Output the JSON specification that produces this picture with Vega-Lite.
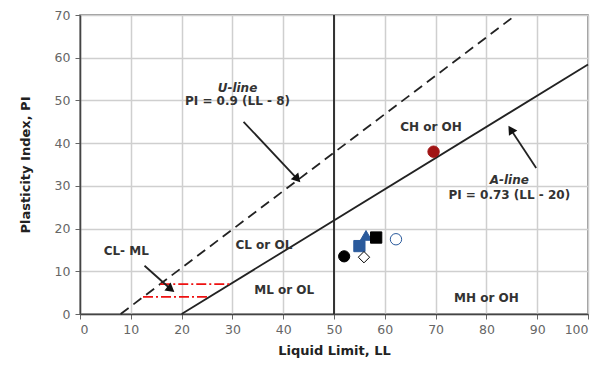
{
  "$schema": "https://vega.github.io/schema/vega-lite/v6.json",
  "width": 508,
  "height": 299,
  "autosize": "none",
  "padding": {"left": 80, "top": 15, "right": 23, "bottom": 65},
  "background": "white",
  "config": {
    "view": {"stroke": "#777", "strokeWidth": 1.5},
    "font": "DejaVu Sans",
    "axis": {
      "grid": true, "gridColor": "#cfcfcf", "gridWidth": 1.5,
      "domainColor": "#444", "domainWidth": 1.5,
      "tickColor": "#666", "tickSize": 5,
      "labelColor": "#666", "labelFontSize": 12.5, "labelFont": "DejaVu Sans",
      "titleFont": "DejaVu Sans", "titleFontSize": 13, "titleFontWeight": "bold", "titleColor": "#222"
    }
  },
  "datasets": {
    "lines": [
      {"line": "U", "LL": 8, "PI": 0}, {"line": "U", "LL": 85.8, "PI": 70},
      {"line": "A", "LL": 20, "PI": 0}, {"line": "A", "LL": 100, "PI": 58.4},
      {"line": "V", "LL": 50, "PI": 0}, {"line": "V", "LL": 50, "PI": 70},
      {"line": "R7", "LL": 15.8, "PI": 7}, {"line": "R7", "LL": 29.8, "PI": 7},
      {"line": "R4", "LL": 12.4, "PI": 4}, {"line": "R4", "LL": 25.6, "PI": 4}
    ],
    "arrows": [
      {"arrow": "U", "LL": 32.2, "PI": 45.0, "LL2": 42.8, "PI2": 31.6},
      {"arrow": "A", "LL": 89.8, "PI": 34.2, "LL2": 84.8, "PI2": 43.2},
      {"arrow": "C", "LL": 12.7, "PI": 11.3, "LL2": 17.9, "PI2": 5.8}
    ],
    "samples": [
      {"s": "a", "LL": 52.0, "PI": 13.5},
      {"s": "b", "LL": 55.0, "PI": 15.9},
      {"s": "e", "LL": 55.9, "PI": 13.3},
      {"s": "c", "LL": 56.3, "PI": 18.4},
      {"s": "d", "LL": 58.3, "PI": 17.9},
      {"s": "f", "LL": 62.2, "PI": 17.5},
      {"s": "g", "LL": 69.6, "PI": 38.0}
    ],
    "labels": [
      {"t": "PI = 0.9 (LL - 8)", "LL": 31.0, "PI": 49.8},
      {"t": "CH or OH", "LL": 69.1, "PI": 43.7},
      {"t": "PI = 0.73 (LL - 20)", "LL": 84.5, "PI": 27.8},
      {"t": "CL or OL", "LL": 36.2, "PI": 16.1},
      {"t": "CL- ML", "LL": 9.1, "PI": 14.7},
      {"t": "ML or OL", "LL": 40.2, "PI": 5.6},
      {"t": "MH or OH", "LL": 80.0, "PI": 3.7}
    ],
    "italic": [
      {"t": "U-line", "LL": 31.0, "PI": 52.8},
      {"t": "A-line", "LL": 84.5, "PI": 31.3}
    ]
  },
  "encoding": {
    "x": {"field": "LL", "type": "quantitative", "scale": {"domain": [0, 100], "nice": false},
      "axis": {"title": "Liquid Limit, LL", "values": [0,10,20,30,40,50,60,70,80,90,100], "titlePadding": 9, "labelPadding": 4}},
    "y": {"field": "PI", "type": "quantitative", "scale": {"domain": [0, 70], "nice": false},
      "axis": {"title": "Plasticity Index, PI", "values": [0,10,20,30,40,50,60,70], "titlePadding": 22, "labelPadding": 5}}
  },
  "layer": [
    {"data": {"name": "lines"}, "transform": [{"filter": "datum.line == 'U'"}],
      "mark": {"type": "line", "color": "#222", "strokeWidth": 1.8, "strokeDash": [10, 6]}},
    {"data": {"name": "lines"}, "transform": [{"filter": "datum.line == 'A' || datum.line == 'V'"}],
      "mark": {"type": "line", "color": "#222", "strokeWidth": 1.8}, "encoding": {"detail": {"field": "line"}}},
    {"data": {"name": "lines"}, "transform": [{"filter": "datum.line == 'R7' || datum.line == 'R4'"}],
      "mark": {"type": "line", "color": "#ee1111", "strokeWidth": 1.6, "strokeDash": [10, 3, 2, 3]}, "encoding": {"detail": {"field": "line"}}},
    {"data": {"name": "arrows"},
      "mark": {"type": "rule", "color": "#222", "strokeWidth": 1.8},
      "encoding": {"x2": {"field": "LL2"}, "y2": {"field": "PI2"}}},
    {"data": {"name": "arrows"}, "transform": [{"filter": "datum.arrow == 'U'"}],
      "mark": {"type": "point", "shape": "triangle-up", "filled": true, "color": "#111", "size": 100, "angle": 138, "opacity": 1},
      "encoding": {"x": {"field": "LL2", "type": "quantitative"}, "y": {"field": "PI2", "type": "quantitative"}}},
    {"data": {"name": "arrows"}, "transform": [{"filter": "datum.arrow == 'A'"}],
      "mark": {"type": "point", "shape": "triangle-up", "filled": true, "color": "#111", "size": 100, "angle": 327, "opacity": 1},
      "encoding": {"x": {"field": "LL2", "type": "quantitative"}, "y": {"field": "PI2", "type": "quantitative"}}},
    {"data": {"name": "arrows"}, "transform": [{"filter": "datum.arrow == 'C'"}],
      "mark": {"type": "point", "shape": "triangle-up", "filled": true, "color": "#111", "size": 100, "angle": 128, "opacity": 1},
      "encoding": {"x": {"field": "LL2", "type": "quantitative"}, "y": {"field": "PI2", "type": "quantitative"}}},
    {"data": {"name": "samples"},
      "mark": {"type": "point", "opacity": 1},
      "encoding": {
        "shape": {"field": "s", "type": "nominal", "legend": null,
          "scale": {"domain": ["a","b","c","d","e","f","g"], "range": ["circle","square","triangle-up","square","diamond","circle","circle"]}},
        "fill": {"field": "s", "type": "nominal", "legend": null,
          "scale": {"domain": ["a","b","c","d","e","f","g"], "range": ["#000000","#2a5a9c","#2a5a9c","#000000","#ffffff","#ffffff","#a11414"]}},
        "stroke": {"field": "s", "type": "nominal", "legend": null,
          "scale": {"domain": ["a","b","c","d","e","f","g"], "range": ["#000000","#2a5a9c","#2a5a9c","#000000","#000000","#2a5a9c","#a11414"]}},
        "strokeWidth": {"field": "s", "type": "nominal", "legend": null,
          "scale": {"domain": ["a","b","c","d","e","f","g"], "range": [1, 1, 1, 1, 2.5, 3.5, 1]}},
        "size": {"field": "s", "type": "nominal", "legend": null,
          "scale": {"domain": ["a","b","c","d","e","f","g"], "range": [125, 130, 230, 120, 80, 85, 100]}}
      }},
    {"data": {"name": "labels"},
      "mark": {"type": "text", "font": "DejaVu Sans", "fontSize": 12, "fontWeight": "bold", "color": "#333"},
      "encoding": {"text": {"field": "t"}}},
    {"data": {"name": "italic"},
      "mark": {"type": "text", "font": "DejaVu Sans", "fontSize": 12, "fontWeight": "bold", "fontStyle": "italic", "color": "#333"},
      "encoding": {"text": {"field": "t"}}}
  ]
}
